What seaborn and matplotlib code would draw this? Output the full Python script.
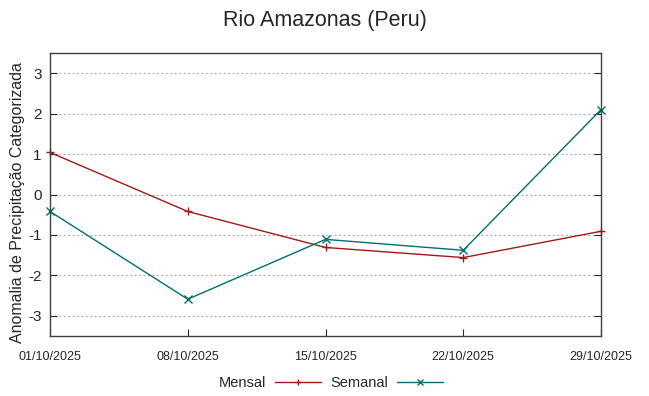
import pandas as pd
import numpy as np
import matplotlib
matplotlib.use('Agg')
import matplotlib.pyplot as plt
import seaborn as sns

# dados
datas = ['01/10/2025', '08/10/2025', '15/10/2025', '22/10/2025', '29/10/2025']
mensal = [1.04, -0.42, -1.31, -1.56, -0.91]
semanal = [-0.42, -2.59, -1.11, -1.38, 2.10]
y_ticks = [-3, -2, -1, 0, 1, 2, 3]

df = pd.DataFrame({
    'data': datas * 2,
    'pos': list(range(len(datas))) * 2,
    'valor': mensal + semanal,
    'serie': ['Mensal'] * len(datas) + ['Semanal'] * len(datas),
})

sns.set_style('white')
plt.rcParams['font.family'] = ['Liberation Sans', 'DejaVu Sans']

fig = plt.figure(figsize=(6.49, 3.96), dpi=100)
ax = fig.add_axes([50 / 649, 1 - 336 / 396, 551 / 649, 283 / 396])

cores = {'Mensal': '#a01a1a', 'Semanal': '#006e6e'}
sns.lineplot(data=df, x='pos', y='valor', hue='serie', style='serie',
             markers={'Mensal': '+', 'Semanal': 'x'}, dashes=False,
             palette=cores, linewidth=1, markersize=5.5, markeredgewidth=1,
             ax=ax, legend=False)

for ln in ax.lines:
    ln.set_markeredgecolor(ln.get_color())
    ln.set_clip_on(False)

ax.set_xlim(0, len(datas) - 1)
ax.set_ylim(-3.5, 3.5)
ax.set_yticks(y_ticks)
ax.set_yticklabels([str(v) for v in y_ticks], fontsize=11)
ax.set_xticks(range(len(datas)))
ax.set_xticklabels(datas, fontsize=9, family=['Liberation Sans Narrow', 'Liberation Sans'])
ax.tick_params(axis='x', direction='in', length=5, pad=11, bottom=True)
ax.tick_params(axis='y', direction='in', length=5, left=True, right=True, pad=6)
ax.yaxis.grid(True, linestyle=(0, (1.5, 2.5)), color='#a0a0a0', linewidth=0.8)
for s in ax.spines.values():
    s.set_color('#404040')
    s.set_linewidth(1)

ax.set_xlabel('')
ax.set_ylabel('Anomalia de Precipitação Categorizada', fontsize=11.5)
ax.yaxis.set_label_coords(-0.045, 0.47)
fig.suptitle('Rio Amazonas (Peru)', fontsize=15.5, y=0.975)

handles = []
for nome, mk in [('Mensal', '+'), ('Semanal', 'x')]:
    h, = ax.plot([], [], color=cores[nome], marker=mk, markersize=5,
                 markeredgewidth=1, linewidth=1, label=nome)
    handles.append(h)
ax.legend(handles=handles, loc='center', bbox_to_anchor=(0.51, -0.165), ncol=2,
          frameon=False, markerfirst=False, fontsize=10.5, handlelength=3.2,
          columnspacing=0.6, handletextpad=0.6)

fig.savefig('out.png', dpi=100)
